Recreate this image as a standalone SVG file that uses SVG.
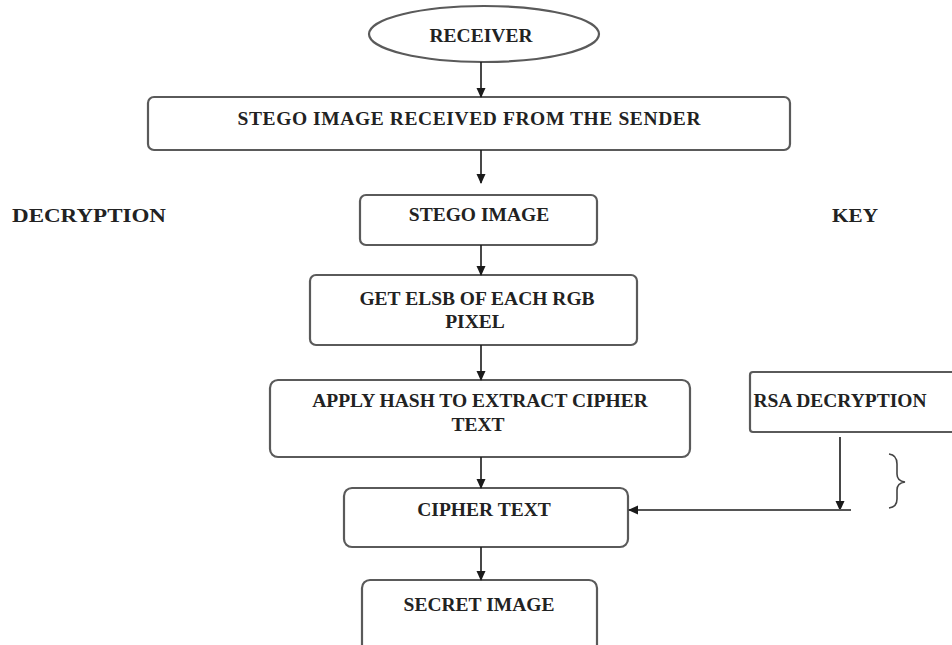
<svg xmlns="http://www.w3.org/2000/svg" width="952" height="645" viewBox="0 0 952 645">
<defs>
<marker id="ah" markerWidth="10" markerHeight="10" refX="9" refY="5" orient="auto" markerUnits="userSpaceOnUse">
<path d="M0,0.5 L10,5 L0,9.5 Z" fill="#1a1a1a"/>
</marker>
<style>
.box{fill:#fff;stroke:#5a5a5a;stroke-width:2.2}
.t{font-family:"Liberation Serif","Times New Roman",serif;font-weight:bold;font-size:19.5px;fill:#222;text-anchor:middle}
.tl{font-family:"Liberation Serif","Times New Roman",serif;font-weight:bold;font-size:19.5px;fill:#222}
.c{stroke:#1a1a1a;stroke-width:1.6;fill:none}
</style>
</defs>
<rect width="952" height="645" fill="#fff"/>

<g id="receiver">
<ellipse class="box" cx="484" cy="34" rx="115" ry="28"/>
<text class="t" x="481" y="42">RECEIVER</text>
</g>

<g id="stego-received">
<rect class="box" x="148" y="97" width="642" height="53" rx="6"/>
<text class="t" x="469" y="125" textLength="463" lengthAdjust="spacing">STEGO IMAGE RECEIVED FROM THE SENDER</text>
</g>

<g id="label-decryption">
<text class="tl" x="12" y="222" textLength="154" lengthAdjust="spacingAndGlyphs">DECRYPTION</text>
</g>
<g id="label-key">
<text class="tl" x="832" y="222" textLength="46" lengthAdjust="spacingAndGlyphs">KEY</text>
</g>

<g id="stego-image">
<rect class="box" x="360" y="195" width="237" height="50" rx="6"/>
<text class="t" x="479" y="221">STEGO IMAGE</text>
</g>

<g id="get-elsb">
<rect class="box" x="310" y="275" width="327" height="70" rx="6"/>
<text class="t" x="477" y="305">GET ELSB OF EACH RGB</text>
<text class="t" x="475" y="328">PIXEL</text>
</g>

<g id="apply-hash">
<rect class="box" x="270" y="380" width="420" height="77" rx="8"/>
<text class="t" x="480" y="407">APPLY HASH TO EXTRACT CIPHER</text>
<text class="t" x="478" y="431">TEXT</text>
</g>

<g id="rsa-decryption">
<rect class="box" x="750" y="372" width="210" height="60" rx="3"/>
<text class="t" x="840" y="407">RSA DECRYPTION</text>
</g>

<g id="cipher-text">
<rect class="box" x="344" y="488" width="284" height="59" rx="8"/>
<text class="t" x="484" y="516">CIPHER TEXT</text>
</g>

<g id="secret-image">
<rect class="box" x="362" y="580" width="235" height="75" rx="8"/>
<text class="t" x="479" y="611">SECRET IMAGE</text>
</g>

<g id="brace">
<path d="M889,454 Q897,455 897,464 L897,474 Q897,481 905,482 Q897,483 897,490 L897,499 Q897,507 889,508" fill="none" stroke="#444" stroke-width="1.6"/>
</g>

<g id="connectors">
<line class="c" x1="481" y1="62" x2="481" y2="97" marker-end="url(#ah)"/>
<line class="c" x1="481" y1="150" x2="481" y2="183" marker-end="url(#ah)"/>
<line class="c" x1="481" y1="245" x2="481" y2="275" marker-end="url(#ah)"/>
<line class="c" x1="481" y1="345" x2="481" y2="380" marker-end="url(#ah)"/>
<line class="c" x1="481" y1="457" x2="481" y2="488" marker-end="url(#ah)"/>
<line class="c" x1="481" y1="547" x2="481" y2="580" marker-end="url(#ah)"/>
<line class="c" x1="840" y1="437" x2="840" y2="510" marker-end="url(#ah)"/>
<line class="c" x1="851" y1="510" x2="629" y2="510" marker-end="url(#ah)" style="stroke:#555;stroke-width:2.2"/>
</g>
</svg>
